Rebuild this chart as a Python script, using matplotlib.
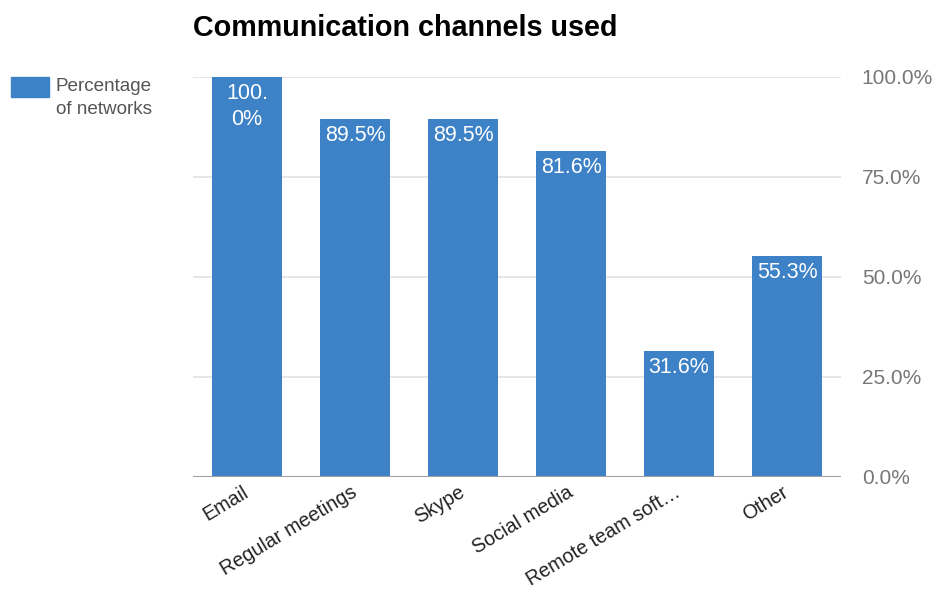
import numpy as np
import matplotlib.pyplot as plt

plt.rcParams['font.family'] = ['Liberation Sans', 'DejaVu Sans']

# data
categories = ["Email", "Regular meetings", "Skype", "Social media",
              "Remote team soft\u2026", "Other"]
values = [100.0, 89.5, 89.5, 81.6, 31.6, 55.3]
value_labels = ["100.\n0%", "89.5%", "89.5%", "81.6%", "31.6%", "55.3%"]
yticks = [0, 25, 50, 75, 100]
ytick_labels = ["0.0%", "25.0%", "50.0%", "75.0%", "100.0%"]

blue = "#3d81c6"

fig = plt.figure(figsize=(9.37, 5.92), dpi=100)
ax = fig.add_axes([193 / 937, 1 - 477 / 592, 648 / 937, 400 / 592])

x = np.arange(len(categories))
bars = ax.bar(x, values, width=0.648, color=blue, zorder=2)

for b, lab in zip(bars, value_labels):
    ax.annotate(lab, (b.get_x() + b.get_width() / 2, b.get_height()),
                xytext=(0, -4.5), textcoords="offset points",
                ha="center", va="top", color="white", fontsize=15.5,
                linespacing=1.3, zorder=3)

ax.set_xlim(-0.5, len(categories) - 0.5)
ax.set_ylim(0, 100)
ax.set_yticks(yticks)
ax.set_yticklabels(ytick_labels)
ax.yaxis.tick_right()
ax.tick_params(axis="y", length=0, pad=15, labelsize=15, labelcolor="#777777")
ax.set_xticks(x)
ax.set_xticklabels(categories, rotation=31, ha="right", va="center",
                   rotation_mode="anchor")
ax.tick_params(axis="x", length=0, pad=10, labelsize=14.2, labelcolor="#222222")

ax.grid(axis="y", color="#e2e2e2", linewidth=1.2, zorder=0)
ax.axhline(0, color="#a0a0a0", linewidth=1.5, zorder=3)
for s in ax.spines.values():
    s.set_visible(False)

fig.text(193 / 937, 1 - 28 / 592, "Communication channels used",
         fontsize=20.7, fontweight="bold", color="#000000", va="center", ha="left")

# legend
fig.patches.append(plt.Rectangle((11 / 937, 1 - 97 / 592), 38 / 937, 20 / 592,
                                 transform=fig.transFigure, color=blue))
fig.text(56 / 937, 1 - 98 / 592, "Percentage\nof networks", fontsize=13.6,
         color="#555555", va="center", ha="left", linespacing=1.4)

fig.savefig("out.png", dpi=100, facecolor="white")
